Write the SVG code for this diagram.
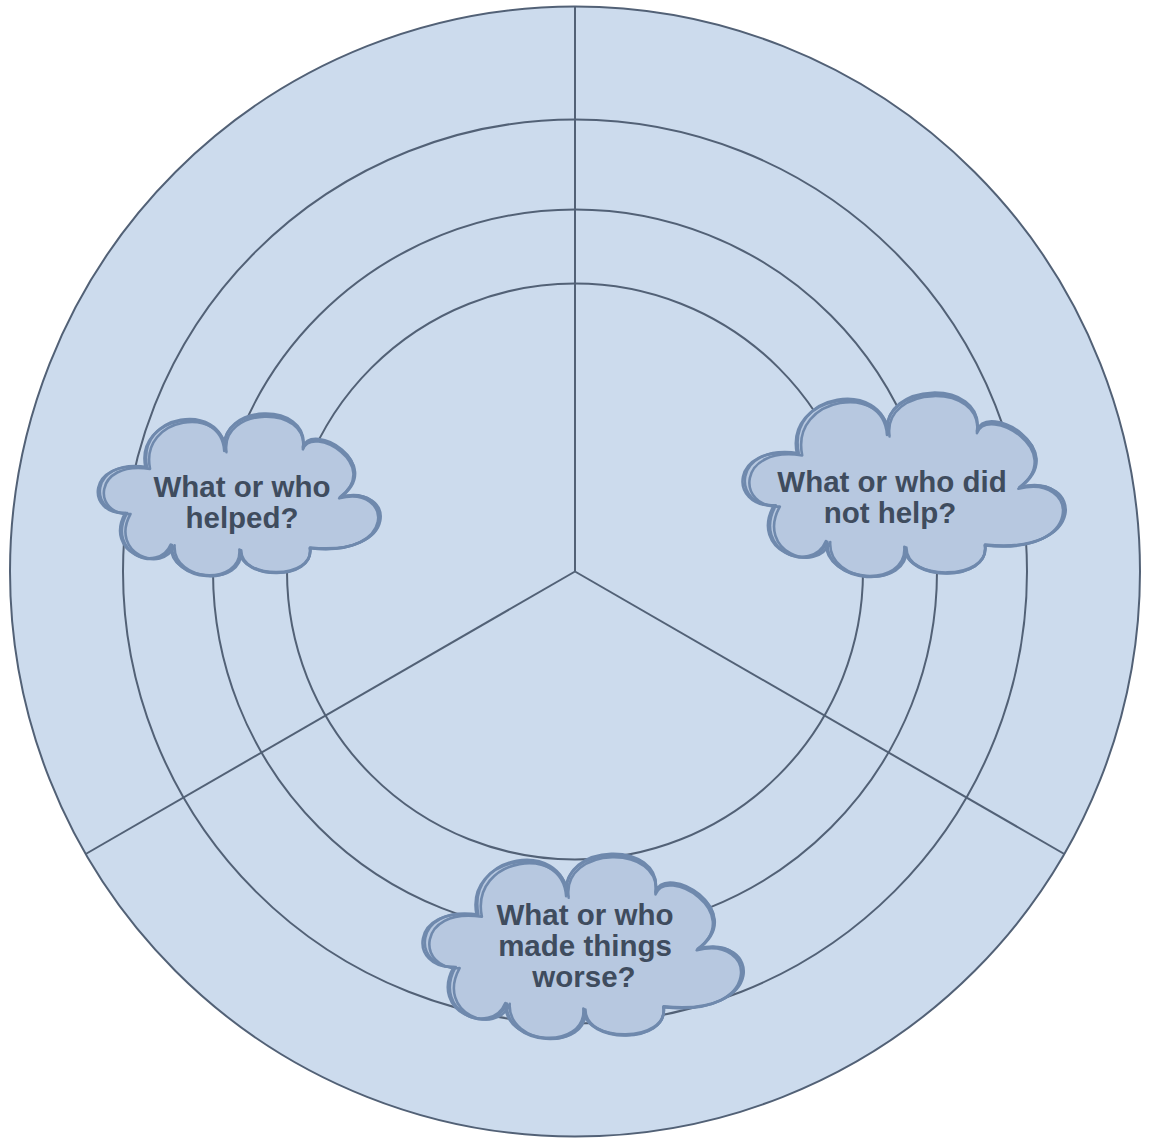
<svg xmlns="http://www.w3.org/2000/svg" xmlns:xlink="http://www.w3.org/1999/xlink" width="1150" height="1138" viewBox="0 0 1150 1138">
  <style>
    .ring { fill: none; stroke: #526176; stroke-width: 2; }
    .outer { fill: #ccdbed; stroke: #526176; stroke-width: 2; }
    .spoke { stroke: #526176; stroke-width: 2; fill: none; }
    .cfill { fill: #b7c8e0; stroke: none; }
    .cstroke { fill: none; stroke: #6f89ad; stroke-width: 2.6; stroke-linejoin: round; }
    .label { font-family: "Liberation Sans", Arial, sans-serif; font-weight: bold; font-size: 29.5px; fill: #3f4c5e; text-anchor: middle; }
  </style>
  <defs>
    <path id="cloud" vector-effect="non-scaling-stroke" d="M47,54 C36,0 122,-12 125,37 C118,-10 210,-12 203,34 C212,8 285,50 240,84 C295,70 300,145 210,135 C215,168 140,168 140,137 C143,175 70,170 72,132 C60,162 5,140 27,100 C-12,102 -12,45 47,54 Z"/>
  </defs>

  <g id="wheel">
    <circle class="outer" cx="575" cy="571.5" r="565"/>
    <circle class="ring" cx="575" cy="571.5" r="452"/>
    <circle class="ring" cx="575" cy="571.5" r="362"/>
    <circle class="ring" cx="575" cy="571.5" r="288"/>
  </g>

  <g id="spokes">
    <line class="spoke" x1="575" y1="571.5" x2="575" y2="6.5"/>
    <line class="spoke" x1="575" y1="571.5" x2="85.7" y2="854"/>
    <line class="spoke" x1="575" y1="571.5" x2="1064.3" y2="854"/>
  </g>

  <g id="cloud-helped">
    <g transform="translate(100,413)">
      <use xlink:href="#cloud" class="cfill"/>
      <use xlink:href="#cloud" class="cstroke"/>
      <use xlink:href="#cloud" class="cstroke" transform="translate(4,3) scale(0.98)"/>
      <use xlink:href="#cloud" class="cstroke" transform="translate(-2,1.5) scale(1.01,0.985)"/>
    </g>
    <text class="label" x="242" y="497">What or who</text>
    <text class="label" x="242" y="528">helped?</text>
  </g>

  <g id="cloud-not-help">
    <g transform="translate(745,392) scale(1.143,1.134)">
      <use xlink:href="#cloud" class="cfill"/>
      <use xlink:href="#cloud" class="cstroke"/>
      <use xlink:href="#cloud" class="cstroke" transform="translate(4,3) scale(0.98)"/>
      <use xlink:href="#cloud" class="cstroke" transform="translate(-2,1.5) scale(1.01,0.985)"/>
    </g>
    <text class="label" x="892" y="492">What or who did</text>
    <text class="label" x="890" y="523">not help?</text>
  </g>

  <g id="cloud-worse">
    <g transform="translate(425,853) scale(1.136,1.14)">
      <use xlink:href="#cloud" class="cfill"/>
      <use xlink:href="#cloud" class="cstroke"/>
      <use xlink:href="#cloud" class="cstroke" transform="translate(4,3) scale(0.98)"/>
      <use xlink:href="#cloud" class="cstroke" transform="translate(-2,1.5) scale(1.01,0.985)"/>
    </g>
    <text class="label" x="585" y="925">What or who</text>
    <text class="label" x="585" y="956">made things</text>
    <text class="label" x="584" y="987">worse?</text>
  </g>
</svg>
